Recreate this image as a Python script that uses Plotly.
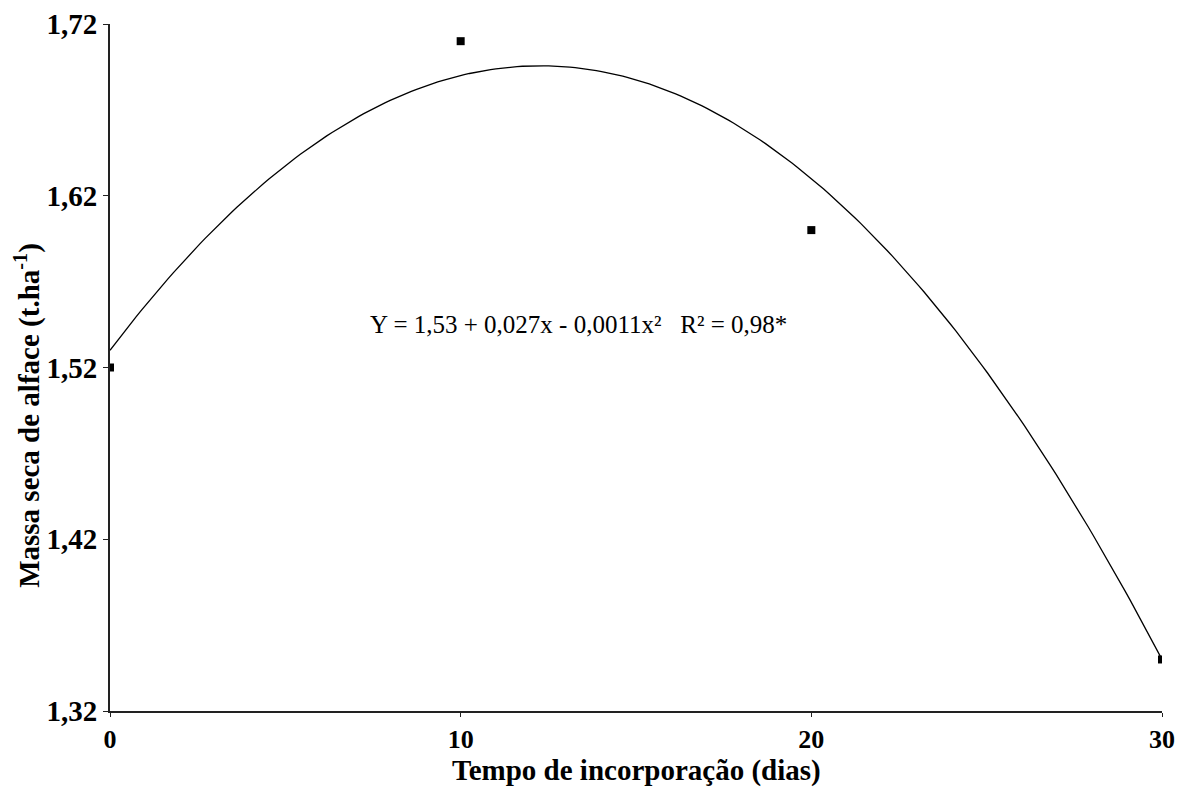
import numpy as np
import plotly.graph_objects as go

# dados observados
dias = [0, 10, 20, 30]
massa_seca = [1.520, 1.710, 1.600, 1.350]

# coeficientes da regressao: Y = a + b*x + c*x^2
coef = [1.53, 0.027, -0.0011]

x_fit = np.linspace(0, 30, 200)
y_fit = coef[0] + coef[1] * x_fit + coef[2] * x_fit ** 2

x_ticks = [0, 10, 20, 30]
y_ticks = [1.32, 1.42, 1.52, 1.62, 1.72]
y_labels = ["1,32", "1,42", "1,52", "1,62", "1,72"]

fnt = "Liberation Serif"

fig = go.Figure()
fig.add_trace(go.Scatter(x=x_fit, y=y_fit, mode="lines",
                         line=dict(color="black", width=1.3),
                         showlegend=False, hoverinfo="skip"))
fig.add_trace(go.Scatter(x=dias, y=massa_seca, mode="markers",
                         marker=dict(symbol="square", size=8, color="black"),
                         showlegend=False))

fig.add_annotation(x=0.445, y=0.562, xref="paper", yref="paper",
                   text="Y = 1,53 + 0,027x - 0,0011x²   R² = 0,98*",
                   showarrow=False, font=dict(family=fnt, size=25, color="black"))

# titulos dos eixos
fig.add_annotation(x=0.5, y=-0.086, xref="paper", yref="paper",
                   text="<b>Tempo de incorporação (dias)</b>", showarrow=False,
                   yanchor="middle", font=dict(family=fnt, size=29, color="black"))
fig.add_annotation(x=-0.078, y=0.431, xref="paper", yref="paper",
                   text="<b>Massa seca de alface (t.ha<sup>-1</sup>)</b>", showarrow=False,
                   textangle=-90, xanchor="center",
                   font=dict(family=fnt, size=29, color="black"))

fig.update_xaxes(range=[0, 30], tickvals=x_ticks, showline=True, linecolor="#222",
                 linewidth=2, ticks="outside", ticklen=4, tickcolor="#222",
                 showgrid=False, zeroline=False, automargin=False,
                 tickfont=dict(family=fnt, size=26, color="black", weight="bold"))
fig.update_yaxes(range=[1.32, 1.72], tickvals=y_ticks, ticktext=y_labels,
                 showline=True, linecolor="#222", linewidth=2, ticks="outside",
                 ticklen=5, tickcolor="#222", showgrid=False, zeroline=False,
                 automargin=False,
                 tickfont=dict(family=fnt, size=29, color="black", weight="bold"))
# a pagina tem margem de 8px no body, por isso a figura e 8px menor
fig.update_layout(width=1176, height=780, plot_bgcolor="white", paper_bgcolor="white",
                  margin=dict(l=102, r=22, t=16, b=77),
                  font=dict(family=fnt, color="black"))

fig.write_html("out.html")
